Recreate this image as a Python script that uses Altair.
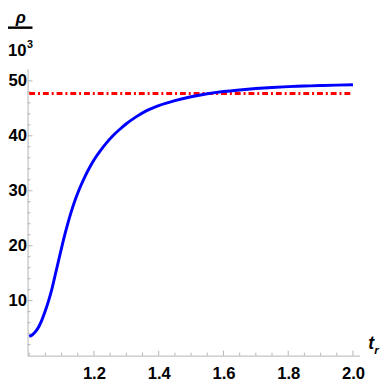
import altair as alt
import pandas as pd

# data
t_vals = [1.00, 1.01, 1.02, 1.03, 1.04, 1.05, 1.06, 1.07, 1.08, 1.09, 1.10,
          1.11, 1.12, 1.13, 1.14, 1.15, 1.16, 1.17, 1.18, 1.19, 1.20, 1.22,
          1.24, 1.26, 1.28, 1.30, 1.33, 1.36, 1.40, 1.45, 1.50, 1.55, 1.60,
          1.65, 1.70, 1.75, 1.80, 1.85, 1.90, 1.95, 2.00]
rho_vals = [3.5, 3.8, 4.4, 5.3, 6.6, 8.2, 10.0, 12.1, 14.6, 17.1, 19.6,
            22.0, 24.2, 26.2, 28.0, 29.6, 31.0, 32.3, 33.5, 34.6, 35.6, 37.3,
            38.8, 40.1, 41.2, 42.2, 43.45, 44.5, 45.5, 46.4, 47.1, 47.65, 48.05,
            48.35, 48.6, 48.8, 48.95, 49.05, 49.15, 49.23, 49.3]
ref_t = [1.0, 2.0]
ref_rho = [47.7, 47.7]

x_major = [1.2, 1.4, 1.6, 1.8, 2.0]
x_minor = [1.0, 1.05, 1.1, 1.15, 1.25, 1.3, 1.35, 1.45, 1.5, 1.55, 1.65,
           1.7, 1.75, 1.85, 1.9, 1.95]
y_major = [10, 20, 30, 40, 50]
y_minor = [2, 4, 6, 8, 12, 14, 16, 18, 22, 24, 26, 28, 32, 34, 36, 38,
           42, 44, 46, 48]

W, H = 339, 293
FONT = "Liberation Sans, Arial, sans-serif"
AX = "#b3b3b3"

xs = alt.Scale(domain=[0.995, 2.02], nice=False, zero=False)
ys = alt.Scale(domain=[0, 52.2], nice=False, zero=False)

curve = pd.DataFrame({"t": t_vals, "rho": rho_vals})
ref = pd.DataFrame({"t": ref_t, "rho": ref_rho})

x_axis = alt.Axis(values=x_major, ticks=False, tickSize=0, grid=False,
                  domainColor=AX, domainWidth=1, labelFont=FONT,
                  labelFontSize=17, labelFontWeight="bold", labelColor="black",
                  labelPadding=10, title=None, format=".1f")
y_axis = alt.Axis(values=y_major, ticks=False, tickSize=0, grid=False,
                  domainColor=AX, domainWidth=1, labelFont=FONT,
                  labelFontSize=17, labelFontWeight="bold", labelColor="black",
                  labelPadding=1, title=None)

line = alt.Chart(curve).mark_line(color="#0000ff", strokeWidth=3,
                                  interpolate="monotone").encode(
    x=alt.X("t:Q", scale=xs, axis=x_axis),
    y=alt.Y("rho:Q", scale=ys, axis=y_axis),
)

refline = alt.Chart(ref).mark_line(color="#ff0000", strokeWidth=3,
                                   strokeDash=[6, 3, 2, 3]).encode(
    x=alt.X("t:Q", scale=xs),
    y=alt.Y("rho:Q", scale=ys),
)

def xticks(vals, length):
    return alt.Chart(pd.DataFrame({"v": vals})).mark_rule(color=AX, strokeWidth=1).encode(
        x=alt.X("v:Q", scale=xs),
        y=alt.value(H),
        y2=alt.value(H - length),
    )

def yticks(vals, length):
    return alt.Chart(pd.DataFrame({"v": vals})).mark_rule(color=AX, strokeWidth=1).encode(
        y=alt.Y("v:Q", scale=ys),
        x=alt.value(0),
        x2=alt.value(length),
    )

one = pd.DataFrame({"a": [0]})

def label(txt, x, y, size, italic=False, align="left"):
    return alt.Chart(one).mark_text(
        font=FONT, fontSize=size, fontWeight="bold",
        fontStyle="italic" if italic else "normal",
        align=align, baseline="alphabetic", color="black",
    ).encode(x=alt.value(x), y=alt.value(y), text=alt.value(txt))

rho_t = label("ρ", -7, -47, 17, italic=True, align="center")
bar = alt.Chart(one).mark_rule(color="black", strokeWidth=2.5).encode(
    x=alt.value(-20), x2=alt.value(5), y=alt.value(-42))
ten = label("10", -20, -13, 17)
three = label("3", -0.5, -21, 11)
t_t = label("t", 348, 286, 18, italic=True)
r_t = label("r", 354, 291, 12, italic=True)

chart = alt.layer(
    xticks(x_major, 5), xticks(x_minor, 3), yticks(y_major, 5), yticks(y_minor, 3),
    refline, line, rho_t, bar, ten, three, t_t, r_t,
).properties(
    width=W, height=H,
    autosize=alt.AutoSizeParams(type="none"),
    padding={"left": 20, "top": 58, "right": 21, "bottom": 29},
).configure_view(stroke=None)

chart.save("out.html", embed_options={"renderer": "svg", "actions": False})
